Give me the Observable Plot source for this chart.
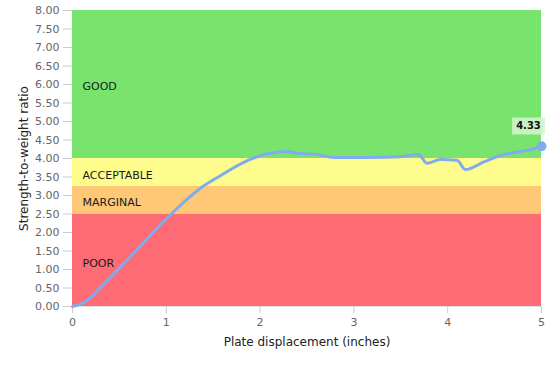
<!DOCTYPE html>
<html>
<head>
<meta charset="utf-8">
<script src="https://cdn.jsdelivr.net/npm/d3@7"></script>
<script src="https://cdn.jsdelivr.net/npm/@observablehq/plot@0.6"></script>
<style>
  html, body { margin: 0; padding: 0; background: #fff; }
  #chart svg { display: block; }
</style>
</head>
<body>
<div id="chart"></div>
<script>
// Curve data (plate displacement in inches, strength-to-weight ratio)
const displacement = [0, 0.1, 0.22, 0.4, 0.65, 0.8, 1.01, 1.2, 1.36, 1.58, 1.87, 2.08, 2.29, 2.4, 2.61, 2.78, 3.14, 3.5, 3.69, 3.78, 3.92, 4.1, 4.19, 4.38, 4.56, 4.7, 4.85, 5];
const ratio =        [0, 0.08, 0.3, 0.78, 1.43, 1.84, 2.4, 2.85, 3.19, 3.54, 3.95, 4.13, 4.19, 4.14, 4.11, 4.03, 4.03, 4.05, 4.11, 3.87, 3.97, 3.95, 3.7, 3.9, 4.08, 4.16, 4.22, 4.33];

// Rating bands
const bandNames = ["POOR", "MARGINAL", "ACCEPTABLE", "GOOD"];
const bandLow =   [0, 2.5, 3.25, 4];
const bandHigh =  [2.5, 3.25, 4, 8];
const bandLabelY = [1.15, 2.8, 3.55, 5.95];
const bandColors = ["#fe6b74", "#fec876", "#fefc8c", "#78e46e"];

const yTicks = d3.range(0, 8.001, 0.5);
const xTicks = [0, 1, 2, 3, 4, 5];

const bands = bandNames.map((n, i) => ({name: n, y1: bandLow[i], y2: bandHigh[i], ly: bandLabelY[i], color: bandColors[i]}));
const curve = displacement.map((x, i) => ({x, y: ratio[i]}));
const last = curve[curve.length - 1];

const chart = Plot.plot({
  width: 550,
  height: 366,
  marginLeft: 72,
  marginRight: 9,
  marginTop: 10,
  marginBottom: 60,
  style: {fontFamily: "'DejaVu Sans', sans-serif", fontSize: "10px", color: "#666", background: "#fff"},
  x: {domain: [0, 5], label: null},
  y: {domain: [0, 8], label: null},
  marks: [
    Plot.rectY(bands, {x1: 0, x2: 5, y1: "y1", y2: "y2", fill: "color"}),
    Plot.text(bands, {x: 0, y: "ly", text: "name", textAnchor: "start", dx: 10, fill: "#1a1a1a", fontSize: 11}),
    Plot.axisX({ticks: xTicks, tickFormat: d3.format("d"), tickSize: 7, tickPadding: 5, stroke: "#ccc", fill: "#666", label: null, fontSize: 11}),
    Plot.axisY({ticks: yTicks, tickFormat: d3.format(".2f"), tickSize: 9, tickPadding: 4, stroke: "#ccc", fill: "#666", label: null, fontSize: 11}),
    Plot.ruleY([0], {stroke: "#e0e0e0", strokeWidth: 1}),
    Plot.line(curve, {x: "x", y: "y", stroke: "#80aceb", strokeWidth: 3, curve: "monotone-x"}),
    Plot.dot([last], {x: "x", y: "y", r: 5, fill: "#80aceb"}),
    Plot.text([last], {x: "x", y: "y", text: d => d.y.toFixed(2), dx: -13, dy: -20, fill: "#111", fontWeight: "bold", fontSize: 10}),
    Plot.text(["Strength-to-weight ratio"], {frameAnchor: "left", textAnchor: "middle", rotate: -90, dx: -48, fill: "#222", fontSize: 12}),
    Plot.text(["Plate displacement (inches)"], {frameAnchor: "bottom", dy: 39, fill: "#222", fontSize: 12})
  ]
});
document.getElementById("chart").appendChild(chart);

// light box behind the value label
const svg = d3.select(chart);
const lbl = svg.selectAll("text").filter(function() { return this.textContent === "4.33"; }).node();
if (lbl) {
  const bb = lbl.getBBox();
  d3.select(lbl.parentNode).insert("rect", () => lbl)
    .attr("transform", lbl.getAttribute("transform"))
    .attr("x", bb.x - 4).attr("y", bb.y - 3).attr("width", bb.width + 8).attr("height", bb.height + 6)
    .attr("fill", "#d2f3cc").attr("fill-opacity", 0.9);
}
</script>
</body>
</html>
